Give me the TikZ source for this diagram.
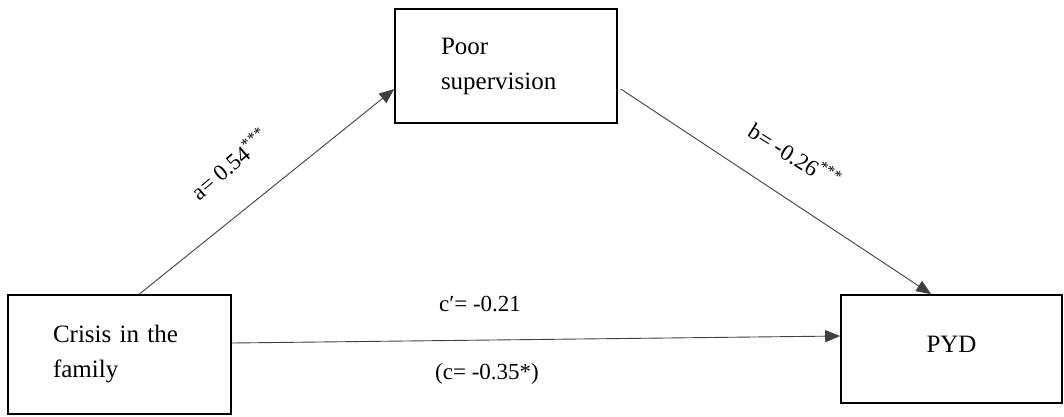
\documentclass[tikz,border=0pt]{standalone}
\usepackage{fontspec}
\setmainfont{Liberation Serif}
\usetikzlibrary{arrows.meta}
\tikzset{
  box/.style={draw=black, line width=1.6pt, rectangle, inner sep=0pt,
    font=\fontsize{25}{35}\selectfont},
  conn/.style={draw=black!75, line width=0.9pt,
    -{Triangle[length=15pt,width=12pt]}},
  lab/.style={inner sep=0pt, font=\fontsize{23}{26}\selectfont}
}
\begin{document}
\begin{tikzpicture}[x=1pt,y=-1pt]
\useasboundingbox (0,0) rectangle (1064,416);
\node[box, minimum width=223pt, minimum height=119pt, text width=133pt,
  align=left, inner xsep=45pt] (crisis) at (119.5,354.5) {Crisis in the\\family};
\node[box, minimum width=222pt, minimum height=114pt, text width=130pt,
  align=left, inner xsep=46pt] (poor) at (506,66) {Poor\\supervision};
\node[box, minimum width=221pt, minimum height=108pt, text depth=10pt] (pyd) at (951.5,349) {PYD};

\draw[conn] ([xshift=132pt]crisis.north west) -- ([yshift=-23pt]poor.west);
\draw[conn] ([xshift=3pt,yshift=-23pt]poor.east) -- ([xshift=91pt]pyd.north west);
\draw[conn] ([yshift=11.5pt]crisis.east) -- ([yshift=13pt]pyd.west);

\node[lab, rotate=40] (la) at (229,164) {a= 0.54\textsuperscript{***}};
\node[lab, rotate=-32] (lb) at (795,155) {b= -0.26\textsuperscript{***}};
\node[lab] (lc1) at (480,304) {c′= -0.21};
\node[lab] (lc2) at (487,374) {(c= -0.35*)};
\end{tikzpicture}
\end{document}
